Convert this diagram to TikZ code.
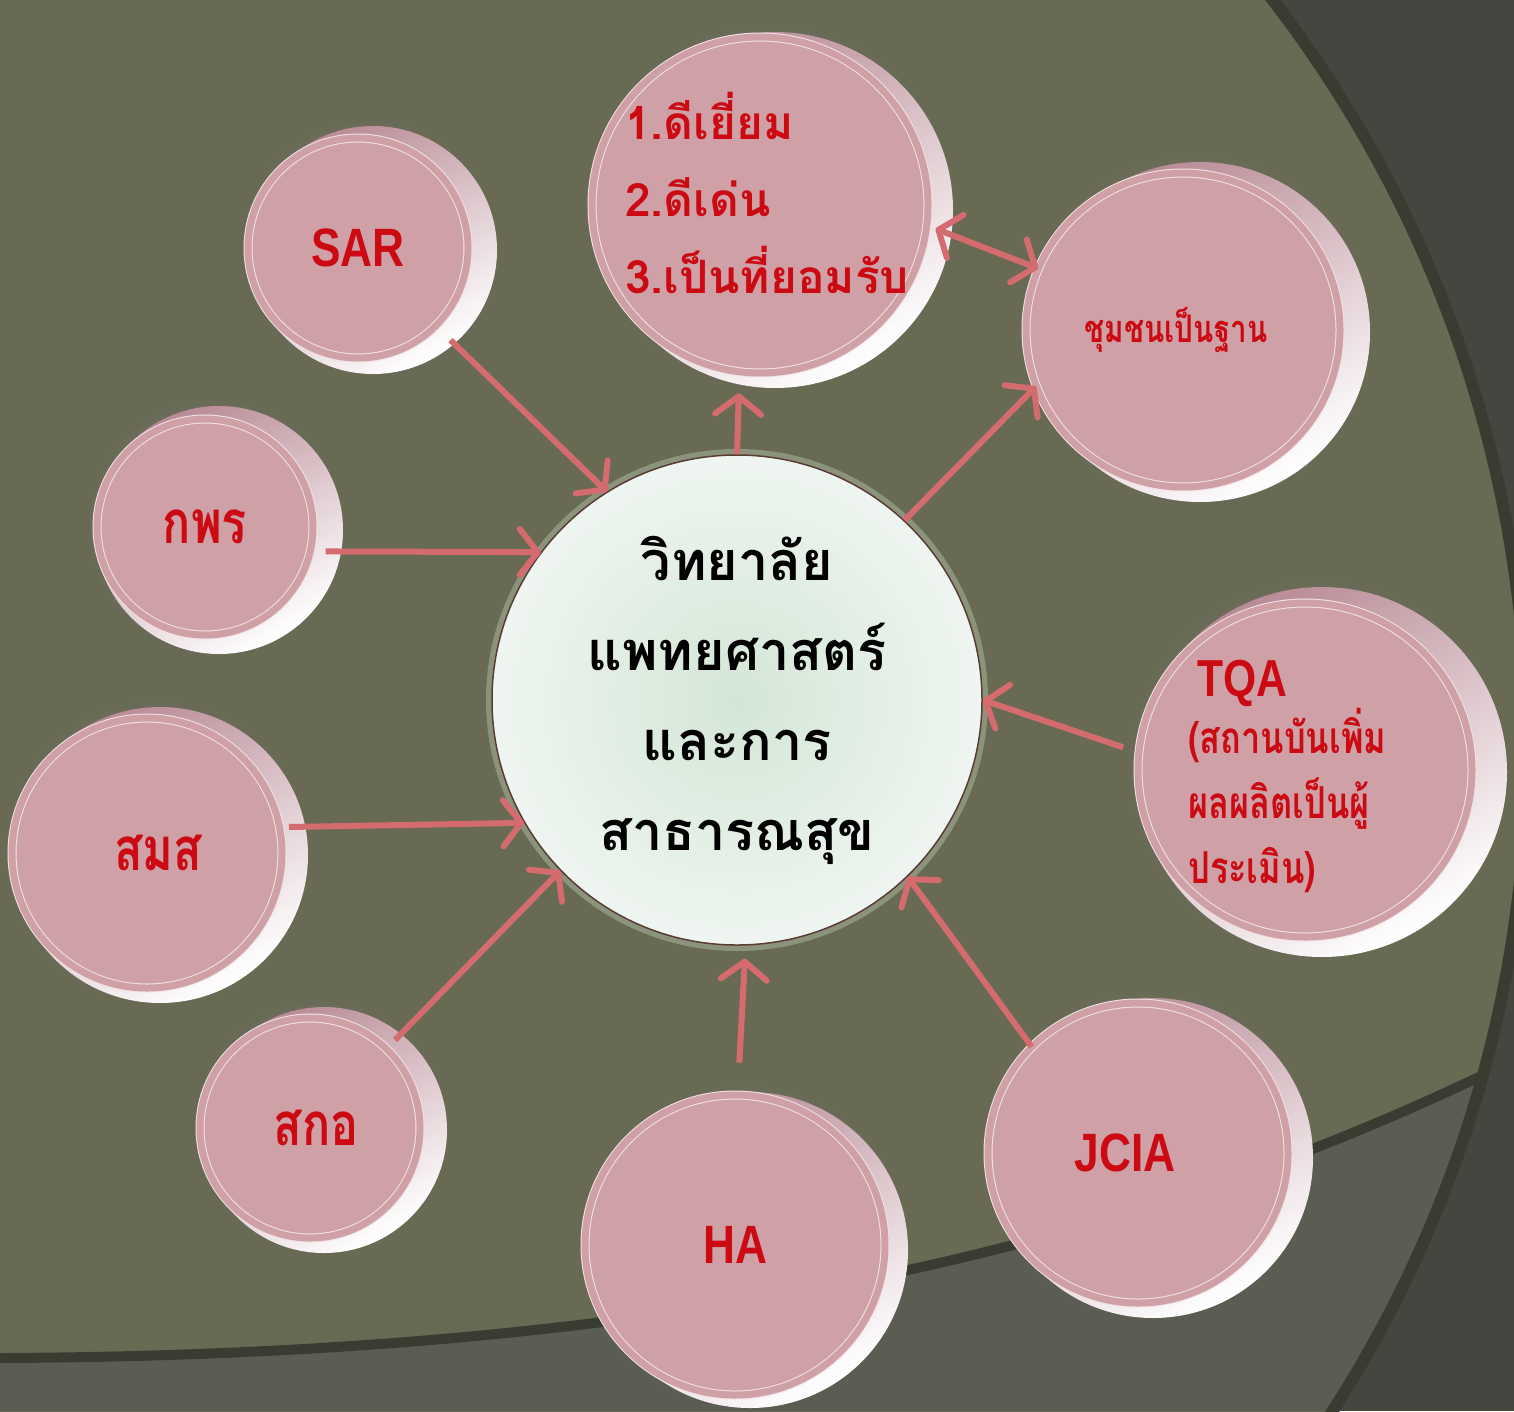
\documentclass[tikz,border=0pt]{standalone}
\usepackage{fontspec}
\newfontfamily\arialfont[FakeStretch=0.82]{Liberation Sans}
\newfontfamily\thaifont[Script=Thai]{Loma}
\newfontfamily\thainarrow[Script=Thai,FakeStretch=0.78]{Loma}
\usetikzlibrary{positioning, arrows.meta, shadows}

\definecolor{bgolive}{HTML}{686A54}
\definecolor{outerdark}{HTML}{45463F}
\definecolor{bandcol}{HTML}{3A3C32}
\definecolor{lowgray}{HTML}{5B5C52}
\definecolor{facepink}{HTML}{CFA1A6}
\definecolor{facering}{HTML}{F2E2E5}
\definecolor{rimtop}{HTML}{B98B96}
\definecolor{rimmid}{HTML}{E8CDD3}
\definecolor{labelred}{HTML}{CC0A14}
\definecolor{arrowred}{HTML}{D46B6E}
\definecolor{colinner}{HTML}{D3E6D6}
\definecolor{colouter}{HTML}{EFF5F1}
\definecolor{coledge}{HTML}{5A3B35}
\definecolor{glowgreen}{HTML}{A9B79C}

\begin{document}
\begin{tikzpicture}[x=1pt, y=-1pt,
    face/.style={circle, inner sep=0pt, fill=facepink, draw=facering, line width=1pt,
      double=facepink, double distance=7pt, text=labelred},
    rim/.style={top color=rimtop, middle color=white!85!rimmid, bottom color=white, shading angle=30,
      circular drop shadow={shadow xshift=-4pt, shadow yshift=4pt, shadow scale=1.03, opacity=.35}},
    arr/.style={draw=arrowred, line width=6pt, -{Straight Barb[length=18pt, width=46pt, line width=6pt, round]}},
    dblarr/.style={arr, {Straight Barb[length=18pt, width=46pt, line width=6pt, round]}-{Straight Barb[length=18pt, width=46pt, line width=6pt, round]}},
    latin/.style={font=\arialfont\bfseries\fontsize{54}{60}\selectfont},
    thaismall/.style={font=\thainarrow\bfseries\fontsize{#1}{#1}\selectfont}]
  \useasboundingbox (0,0) rectangle (1514,1411);
  % background
  \fill[outerdark] (0,0) rectangle (1514,1411);
  \begin{scope}
    \clip (300,748) circle (1227pt);
    \fill[bgolive] (300,748) circle (1227pt);
    \fill[lowgray] (0,1358) .. controls (700,1355) and (1150,1240) .. (1514,1060) -- (1514,1411) -- (0,1411) -- cycle;
    \draw[bandcol, line width=10pt] (0,1358) .. controls (700,1355) and (1150,1240) .. (1514,1060);
  \end{scope}
  \draw[bandcol, line width=12pt] (300,748) circle (1227pt);

  % buttons
  \shade[rim] (775,210) circle (178pt);
  \node[face, minimum size=336pt] (top) at (760,205) {};
  \shade[rim] (373,250) circle (124pt);
  \node[face, minimum size=220pt, latin] (sar) at (358,248) {SAR};
  \shade[rim] (219,530) circle (124pt);
  \node[face, minimum size=216pt, thaismall=60] (kpr) at (205,527) {กพร};
  \shade[rim] (160,855) circle (148pt);
  \node[face, minimum size=270pt, thaismall=60] (smss) at (147,853) {\hspace*{22pt}สมส};
  \shade[rim] (324,1130) circle (123pt);
  \node[face, minimum size=220pt, thaismall=60] (skor) at (310,1128) {\hspace*{12pt}สกอ};
  \shade[rim] (750,1250) circle (158pt);
  \node[face, minimum size=300pt, latin] (ha) at (735,1245) {HA};
  \shade[rim] (1153,1158) circle (160pt);
  \node[face, minimum size=300pt, latin] (jcia) at (1138,1153) {JCIA\hspace*{26pt}};
  \shade[rim] (1200,332) circle (170pt);
  \node[face, minimum size=314pt, thaismall=38] (comm) at (1183,330) {ชุมชนเป็นฐาน\hspace*{14pt}};
  \shade[rim] (1322,772) circle (185pt);
  \node[face, minimum size=334pt] (tqa) at (1305,770) {};

  % texts in the buttons
  \node[anchor=north west, inner sep=0pt, align=left, text=labelred,
    font=\thaifont\bfseries\fontsize{46}{77}\selectfont] (toptext) at (625,92)
    {1.ดีเยี่ยม\\2.ดีเด่น\\3.เป็นที่ยอมรับ};
  \node[anchor=north west, inner sep=0pt, align=left, text=labelred,
    font=\thainarrow\bfseries\fontsize{44}{65}\selectfont] (tqatext) at (1188,660)
    {{\arialfont\fontsize{52}{52}\selectfont\hspace*{9pt}TQA}\\[-8pt](สถานบันเพิ่ม\\ผลผลิตเป็นผู้\\ประเมิน)};

  % centre
  \node[circle, minimum size=490pt, inner sep=0pt, inner color=colinner, outer color=colouter,
    draw=coledge, line width=1.5pt, preaction={draw=glowgreen, line width=12pt, opacity=.55},
    align=center, font=\thaifont\bfseries\fontsize{54}{90}\selectfont] (col) at (737,700)
    {วิทยาลัย\\แพทยศาสตร์\\และการ\\สาธารณสุข};

  % arrows
  \draw[arr, shorten <=20pt] (sar.-45) -- (col.122);
  \draw[arr, shorten <=15pt] (kpr.-13) -- (col.143);
  \draw[arr, shorten <=9pt] (smss.11) -- (col.210);
  \draw[arr, shorten <=12pt] (skor.46) -- (col.224);
  \draw[arr, shorten <=32pt, shorten >=13pt] (ha.89) -- (col.272);
  \draw[arr] (jcia.135) -- (col.314);
  \draw[arr, shorten <=16pt] (tqa.174) -- (col.0.5);
  \draw[arr] (col.47) -- (comm.201);
  \draw[arr, shorten >=21pt] (col.90) -- (top.263);
  \draw[dblarr, shorten <=9pt] (top.-7.5) -- (comm.157);
\end{tikzpicture}
\end{document}
